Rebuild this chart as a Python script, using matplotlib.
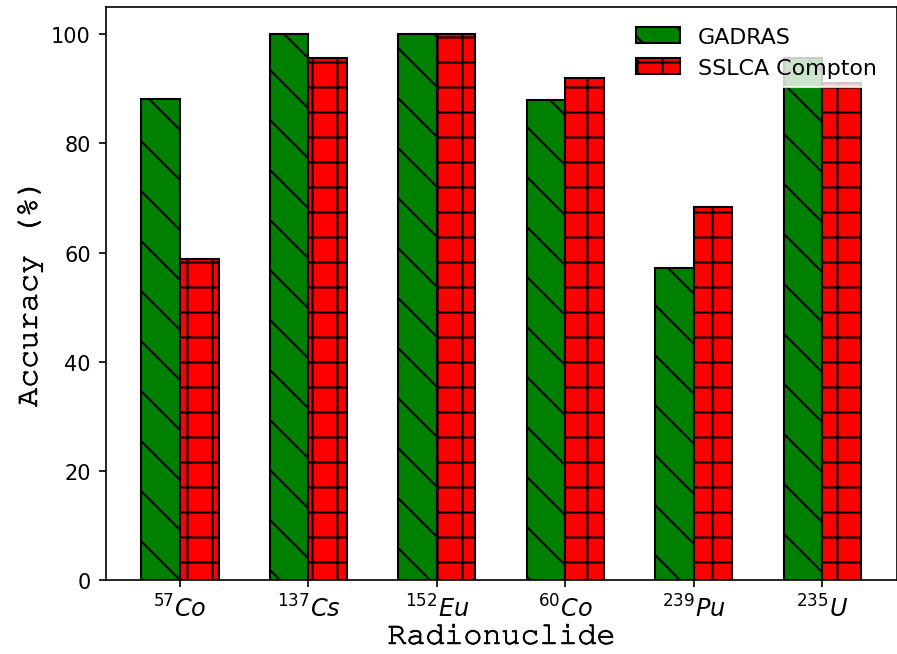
import numpy as np
from matplotlib import pyplot as plt
import matplotlib.patheffects as pe

nuclides = [r'$^{57}Co$', r'$^{137}Cs$', r'$^{152}Eu$', r'$^{60}Co$', r'$^{239}Pu$', r'$^{235}U$']
gadras = [88.2, 100.0, 100.0, 88.0, 57.1, 95.7]
sslca = [58.8, 95.7, 100.0, 92.0, 68.4, 91.0]

mono = ['Nimbus Mono PS', 'Courier New', 'Courier', 'FreeMono', 'Liberation Mono']
# thin courier looks too light, thicken the strokes a bit
thick = [pe.withStroke(linewidth=0.35, foreground='black')]

fig = plt.figure(figsize=(897 / 150, 655 / 150), dpi=150)
ax = fig.add_axes([105.5 / 897, 74 / 655, 791 / 897, 573 / 655])

x = np.arange(len(nuclides))
width = 0.3
ax.bar(x - width / 2, gadras, width, color='green', edgecolor='black', hatch='\\', label='GADRAS')
ax.bar(x + width / 2, sslca, width, color='red', edgecolor='black', hatch='+', label='SSLCA Compton')

ax.set_xticks(x)
ax.set_xticklabels(nuclides, fontsize=11.5)
ax.set_xlabel('Radionuclide', fontsize=15.2, family=mono, labelpad=1, path_effects=thick)
ax.set_ylabel('Accuracy (%)', fontsize=15.2, family=mono, path_effects=thick)
leg = ax.legend(loc='upper right', fontsize=10.6)
leg.get_frame().set_edgecolor('white')

plt.savefig('out.png', dpi=150)
